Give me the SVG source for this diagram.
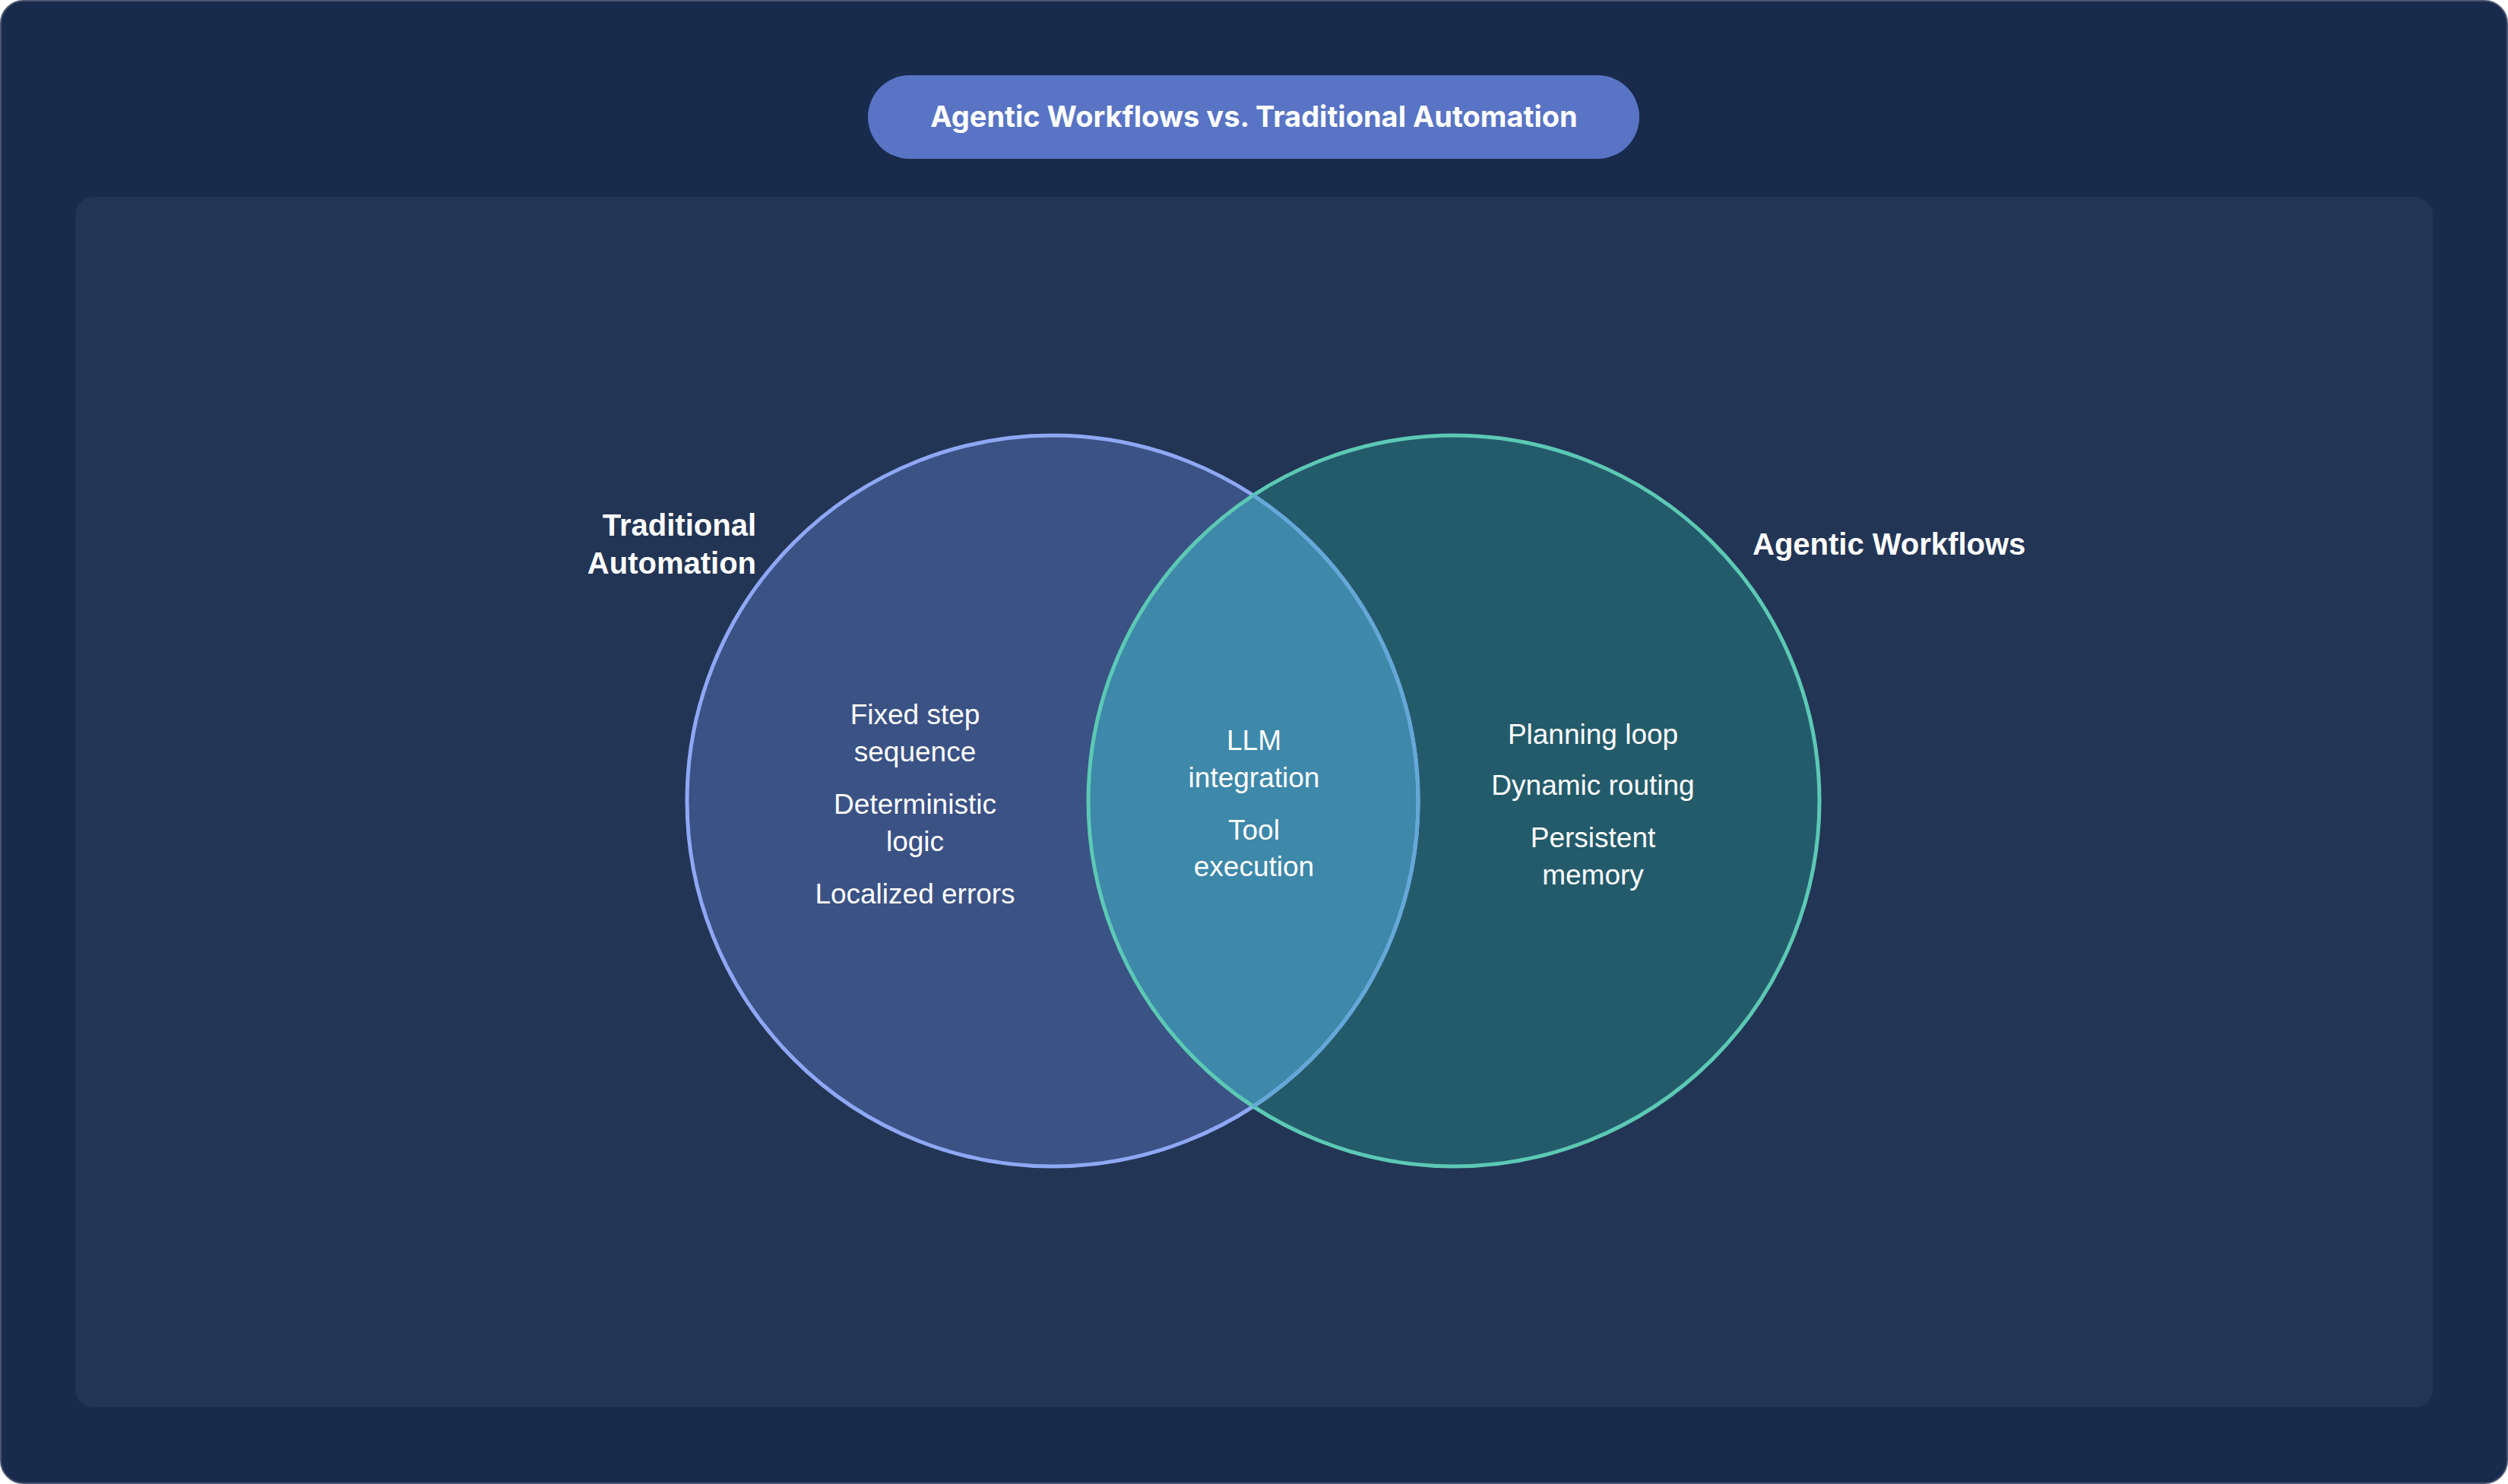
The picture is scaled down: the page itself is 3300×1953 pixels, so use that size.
<svg xmlns="http://www.w3.org/2000/svg" width="3300" height="1953" viewBox="0 0 3300 1953">
<defs>
<clipPath id="cR"><circle cx="1913" cy="1054" r="481"/></clipPath>
<clipPath id="cL"><circle cx="1385" cy="1054" r="481"/></clipPath>
</defs>
<style>
.t{font-family:"Liberation Sans",Arial,sans-serif;font-size:37px;fill:#ffffff;text-anchor:middle}
.b{font-family:"Liberation Sans",Arial,sans-serif;font-size:40px;font-weight:bold;fill:#ffffff}
</style>
<rect x="1" y="1" width="3298" height="1951" rx="30" fill="#182B4D" stroke="#4A5570" stroke-width="2"/>
<rect x="99" y="259" width="3102" height="1593" rx="24" fill="#233555"/>
<g id="title">
<rect x="1142" y="99" width="1015" height="110" rx="55" fill="#5974C4"/>
<text x="1650" y="167" font-family="Inter,'Liberation Sans',sans-serif" font-size="38" font-weight="bold" fill="#ffffff" text-anchor="middle">Agentic Workflows vs. Traditional Automation</text>
</g>
<g id="traditional">
<circle cx="1385" cy="1054" r="481" fill="#3B5285"/>
</g>
<g id="agentic">
<circle cx="1913" cy="1054" r="481" fill="#245B6B"/>
</g>
<g id="overlap">
<circle cx="1385" cy="1054" r="481" fill="#3E88AA" clip-path="url(#cR)"/>
</g>
<g id="outlines" fill="none" stroke-width="5">
<circle cx="1385" cy="1054" r="481" stroke="#8FA8F5"/>
<circle cx="1913" cy="1054" r="481" stroke="#5CC9B5"/>
<circle cx="1385" cy="1054" r="481" stroke="#64A8D8" clip-path="url(#cR)"/>
</g>
<g id="labels">
<text class="b" x="995" y="705" text-anchor="end">Traditional</text>
<text class="b" x="995" y="755" text-anchor="end">Automation</text>
<text class="b" x="2306" y="730">Agentic Workflows</text>
</g>
<g id="left-items">
<text class="t" x="1204" y="953">Fixed step</text>
<text class="t" x="1204" y="1002">sequence</text>
<text class="t" x="1204" y="1071">Deterministic</text>
<text class="t" x="1204" y="1120">logic</text>
<text class="t" x="1204" y="1189">Localized errors</text>
</g>
<g id="middle-items">
<text class="t" x="1650" y="987">LLM</text>
<text class="t" x="1650" y="1036">integration</text>
<text class="t" x="1650" y="1105">Tool</text>
<text class="t" x="1650" y="1153">execution</text>
</g>
<g id="right-items">
<text class="t" x="2096" y="979">Planning loop</text>
<text class="t" x="2096" y="1046">Dynamic routing</text>
<text class="t" x="2096" y="1115">Persistent</text>
<text class="t" x="2096" y="1164">memory</text>
</g>
</svg>
